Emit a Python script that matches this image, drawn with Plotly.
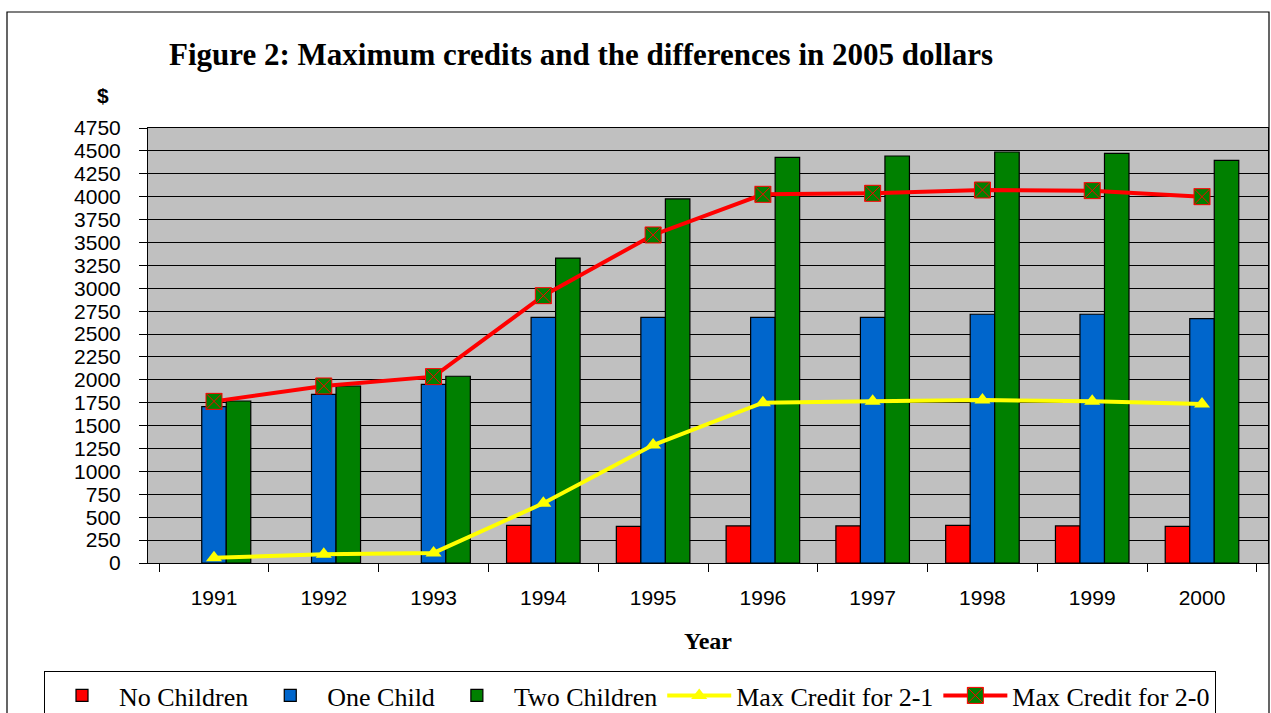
import plotly.graph_objects as go

years = ["1991", "1992", "1993", "1994", "1995", "1996", "1997", "1998", "1999", "2000"]
no_children = [None, None, None, 410, 400, 405, 405, 410, 405, 400]
one_child = [1707, 1842, 1951, 2683, 2683, 2683, 2683, 2716, 2716, 2668]
two_children = [1769, 1933, 2039, 3330, 3975, 4430, 4444, 4488, 4474, 4397]
max_2_1 = [58, 95, 110, 652, 1288, 1750, 1765, 1780, 1765, 1736]
max_2_0 = [1765, 1933, 2035, 2919, 3582, 4026, 4037, 4073, 4066, 4000]
y_ticks = list(range(0, 4751, 250))

L, R, T, B = 148, 3, 128, 150
W, H = 1271, 713
PW = W - L - R
PH = H - T - B


def px(x):
    return (x - L) / PW


def py(y):
    return (H - B - y) / PH


fig = go.Figure()
fig.add_trace(go.Bar(name="No Children", x=years, y=no_children,
                     marker=dict(color="#FF0000", line=dict(color="black", width=1.2))))
fig.add_trace(go.Bar(name="One Child", x=years, y=one_child,
                     marker=dict(color="#0066CC", line=dict(color="black", width=1.2))))
fig.add_trace(go.Bar(name="Two Children", x=years, y=two_children,
                     marker=dict(color="#008000", line=dict(color="black", width=1.2))))
fig.add_trace(go.Scatter(name="Max Credit for 2-1", x=years, y=max_2_1, mode="lines+markers",
                         line=dict(color="#FFFF00", width=4),
                         marker=dict(symbol="triangle-up", size=14, color="#FFFF00")))
fig.add_trace(go.Scatter(name="Max Credit for 2-0", x=years, y=max_2_0, mode="lines+markers",
                         line=dict(color="#FF0000", width=4),
                         marker=dict(symbol="square-x", size=16, color="#008000",
                                     line=dict(color="#FF0000", width=1))))

fig.update_layout(
    width=W, height=H,
    margin=dict(l=L, r=R, t=T, b=B, autoexpand=False),
    paper_bgcolor="white",
    plot_bgcolor="#C0C0C0",
    barmode="group",
    bargap=0.33,
    bargroupgap=0,
    font=dict(family="Liberation Sans, Arial", color="black"),
    showlegend=True,
    legend=dict(orientation="h", x=px(44), y=py(671), xanchor="left", yanchor="top",
                bordercolor="black", borderwidth=1, bgcolor="white",
                font=dict(family="Liberation Serif, Times New Roman", size=26, color="black"),
                traceorder="normal", itemwidth=64),
    xaxis=dict(type="category", tickson="boundaries", ticks="outside", ticklen=8,
               tickcolor="black", showline=True, linecolor="black", mirror=True,
               showgrid=False, tickfont=dict(size=21), ticklabelstandoff=16),
    yaxis=dict(range=[0, 4750], tickvals=y_ticks, ticks="outside", ticklen=8,
               tickcolor="black", showline=True, linecolor="black", mirror=True,
               showgrid=True, gridcolor="black", gridwidth=1, zeroline=False,
               tickfont=dict(size=21), ticklabelstandoff=14),
    shapes=[dict(type="rect", xref="paper", yref="paper",
                 x0=px(7), x1=px(1269), y0=py(760), y1=py(12),
                 line=dict(color="black", width=1.2), fillcolor="rgba(0,0,0,0)", layer="below")],
    annotations=[
        dict(text="<b>Figure 2: Maximum credits and the differences in 2005 dollars</b>",
             xref="paper", yref="paper", x=px(167), y=py(55), xanchor="left", yanchor="middle",
             showarrow=False, font=dict(family="Liberation Serif, Times New Roman", size=31)),
        dict(text="<b>$</b>", xref="paper", yref="paper", x=px(103), y=py(95),
             xanchor="center", yanchor="middle", showarrow=False,
             font=dict(family="Liberation Sans, Arial", size=21)),
        dict(text="<b>Year</b>", xref="paper", yref="paper", x=px(708), y=py(641),
             xanchor="center", yanchor="middle", showarrow=False,
             font=dict(family="Liberation Serif, Times New Roman", size=24)),
    ],
)

fig.write_html("out.html", config={"displayModeBar": False},
               post_script="document.body.style.margin='0';document.body.style.overflow='hidden';")
